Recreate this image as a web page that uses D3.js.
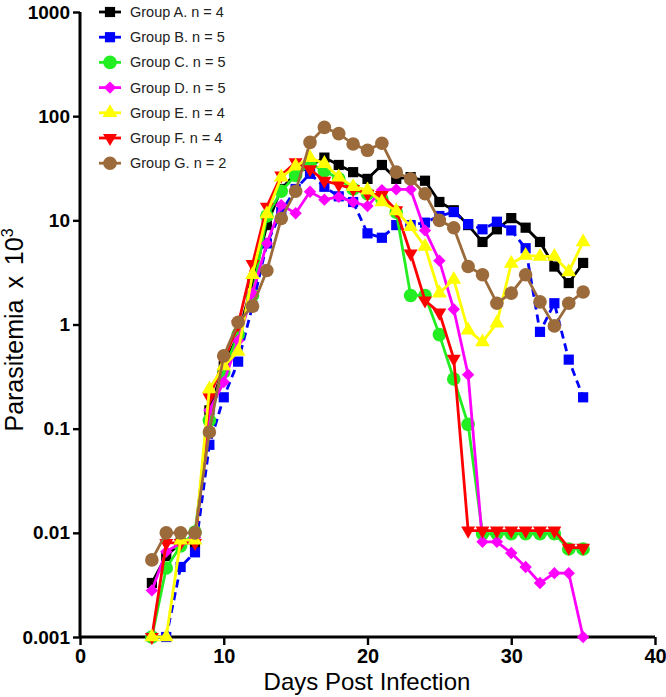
<!DOCTYPE html>
<html>
<head>
<meta charset="utf-8">
<script src="https://cdn.jsdelivr.net/npm/d3@7"></script>
<style>
  html, body { margin: 0; padding: 0; background: #fff; }
  svg { display: block; }
</style>
</head>
<body>
<svg id="chart" width="666" height="697"></svg>
<script>
const days = [5,6,7,8,9,10,11,12,13,14,15,16,17,18,19,20,21,22,23,24,25,26,27,28,29,30,31,32,33,34,35];

const groupA = [0.0033,0.006,0.008,0.008,0.15,0.4,0.8,2.5,9,20,28,33,40,34,29,25,34,25,26,24,15,12.5,9,6.2,8.2,10.5,8.5,6.2,3.6,2.5,3.9];
const groupB = [0.001,0.001,0.0047,0.0065,0.07,0.2,0.44,1.5,6,12,20,28,21,17,15,7.5,6.8,9,9,9.5,11,12,9.2,8.2,9.7,8,5.4,0.85,1.6,0.46,0.2];
const groupC = [0.001,0.0046,0.0075,0.0102,0.12,0.35,0.8,1.9,11,19,27,35,30,25,20,18,16,12,1.9,1.9,0.8,0.3,0.11,0.0098,0.0098,0.0098,0.0098,0.0098,0.0098,0.007,0.007];
const groupD = [0.0028,0.0066,0.008,0.009,0.15,0.28,0.7,2,6,14,11.7,18.8,15.8,16.8,15,13.7,19.5,19.8,19.8,8,4.1,1.4,0.33,0.0082,0.0082,0.0064,0.0047,0.0033,0.0041,0.0041,0.001];
const groupE = [0.001,0.001,0.0085,0.0085,0.24,0.4,0.55,3,11.5,26,33,40,35,26,21,19.5,15,12.3,8.7,5.6,2.0,2.7,0.88,0.68,1.03,3.85,4.6,4.5,4.5,3.2,6.2];
const groupF = [0.001,0.008,0.008,0.008,0.2,0.45,1.0,3.8,13.5,27,36,31,24,22,20,18,17.5,12.5,4.8,1.7,1.3,0.47,0.0105,0.0105,0.0105,0.0105,0.0105,0.0105,0.0105,0.0072,0.0072];
const groupG = [0.0055,0.01,0.01,0.01,0.093,0.5,1.05,1.5,3.3,10.4,19,56,78,68,54,47,55,29,25,18,10,8.5,3.6,3.0,1.6,2.0,3.0,1.65,0.97,1.6,2.05];

const groupNames = ["Group A. n = 4","Group B. n = 5","Group C. n = 5","Group D. n = 5","Group E. n = 4","Group F. n = 4","Group G. n = 2"];
const groupColors = ["#000000","#0000ff","#22ee22","#ff00ff","#ffff00","#ff0000","#9c6b3c"];
const groupSymbols = ["square","square","circle","diamond","triangleUp","triangleDown","circle"];
const groupDashed = [false,true,false,false,false,false,false];
const groupValues = [groupA,groupB,groupC,groupD,groupE,groupF,groupG];
const drawOrder = [0,1,2,3,5,4,6];

const yTickValues = [0.001,0.01,0.1,1,10,100,1000];
const yTickLabels = ["0.001","0.01","0.1","1","10","100","1000"];
const xTickValues = [0,10,20,30,40];

const svg = d3.select("#chart");
const x = d3.scaleLinear().domain([0,40]).range([80,655]);
const y = d3.scaleLog().domain([0.001,1000]).range([637,12]);

function symbolPath(kind) {
  switch (kind) {
    case "square": return d3.symbol().type(d3.symbolSquare).size(104)();
    case "circle": return d3.symbol().type(d3.symbolCircle).size(145)();
    case "diamond": return d3.symbol().type(d3.symbolSquare).size(76)();
    case "triangleUp": return d3.symbol().type(d3.symbolTriangle).size(95)();
    case "triangleDown": return d3.symbol().type(d3.symbolTriangle).size(84)();
  }
}
function symbolRotate(kind) {
  if (kind === "diamond") return 45;
  if (kind === "triangleDown") return 180;
  return 0;
}

const yMinor = [];
yTickValues.slice(0, -1).forEach(v => { for (let k = 2; k <= 9; k++) yMinor.push(v * k); });
const xMinor = [];
for (let d = 0; d <= 40; d++) if (d % 10 !== 0) xMinor.push(d);

const yAxis = d3.axisLeft(y).tickValues(yTickValues).tickSize(7).tickPadding(3)
  .tickFormat((d, i) => yTickLabels[i]);
const yAxisMinor = d3.axisLeft(y).tickValues(yMinor).tickSize(4).tickFormat("");
const xAxis = d3.axisBottom(x).tickValues(xTickValues).tickSize(8).tickPadding(4).tickFormat(d3.format("d"));
const xAxisMinor = d3.axisBottom(x).tickValues(xMinor).tickSize(5).tickFormat("");

const gy = svg.append("g").attr("transform", "translate(80,0)");
gy.call(yAxisMinor);
gy.call(yAxis);
const gx = svg.append("g").attr("transform", "translate(0,637)");
gx.call(xAxisMinor);
gx.call(xAxis);

[gy, gx].forEach(g => {
  g.selectAll(".domain").attr("stroke", "#000").attr("stroke-width", 3);
  g.selectAll(".tick line").attr("stroke", "#000").attr("stroke-width", 2.4);
  g.selectAll(".tick text").attr("fill", "#000")
    .style("font-family", "Liberation Sans, Arial, sans-serif")
    .style("font-weight", "bold");
});
gy.selectAll(".tick text").style("font-size", "19px");
gx.selectAll(".tick text").style("font-size", "20px");
gx.selectAll(".domain").attr("d", "M80,0H655");
gy.selectAll(".domain").attr("d", "M0,637V12");

svg.append("text")
  .attr("x", 367).attr("y", 690)
  .attr("text-anchor", "middle")
  .style("font-family", "Liberation Sans, Arial, sans-serif")
  .style("font-size", "24px")
  .text("Days Post Infection");

const yt = svg.append("text")
  .attr("transform", "translate(23,330) rotate(-90)")
  .attr("text-anchor", "middle")
  .style("font-family", "Liberation Sans, Arial, sans-serif")
  .style("font-size", "25px")
  .style("word-spacing", "4px");
yt.append("tspan").text("Parasitemia  x 10");
yt.append("tspan").attr("dy", -10).style("font-size", "16px").text("3");

const line = d3.line().x((d, i) => x(days[i])).y(d => y(d));
const plot = svg.append("g");
drawOrder.forEach(gi => {
  const g = plot.append("g");
  g.append("path")
    .attr("d", line(groupValues[gi]))
    .attr("fill", "none")
    .attr("stroke", groupColors[gi])
    .attr("stroke-width", 2.8)
    .attr("stroke-dasharray", groupDashed[gi] ? "8,5" : null);
  g.selectAll("path.pt").data(groupValues[gi]).enter().append("path")
    .attr("class", "pt")
    .attr("d", symbolPath(groupSymbols[gi]))
    .attr("transform", (d, i) => `translate(${x(days[i])},${y(d)}) rotate(${symbolRotate(groupSymbols[gi])})`)
    .attr("fill", groupColors[gi]);
});

const legend = svg.append("g");
groupNames.forEach((name, i) => {
  const ly = 12 + i * 25.2;
  const lg = legend.append("g").attr("transform", `translate(0,${ly})`);
  lg.append("line").attr("x1", 99).attr("x2", 121).attr("y1", 0).attr("y2", 0)
    .attr("stroke", groupColors[i]).attr("stroke-width", 2.8);
  lg.append("path").attr("d", symbolPath(groupSymbols[i]))
    .attr("transform", `translate(110,0) rotate(${symbolRotate(groupSymbols[i])})`)
    .attr("fill", groupColors[i]);
  lg.append("text").attr("x", 130).attr("y", 5)
    .style("font-family", "Liberation Sans, Arial, sans-serif")
    .style("font-size", "14.5px")
    .attr("fill", "#222")
    .text(name);
});
</script>
</body>
</html>
